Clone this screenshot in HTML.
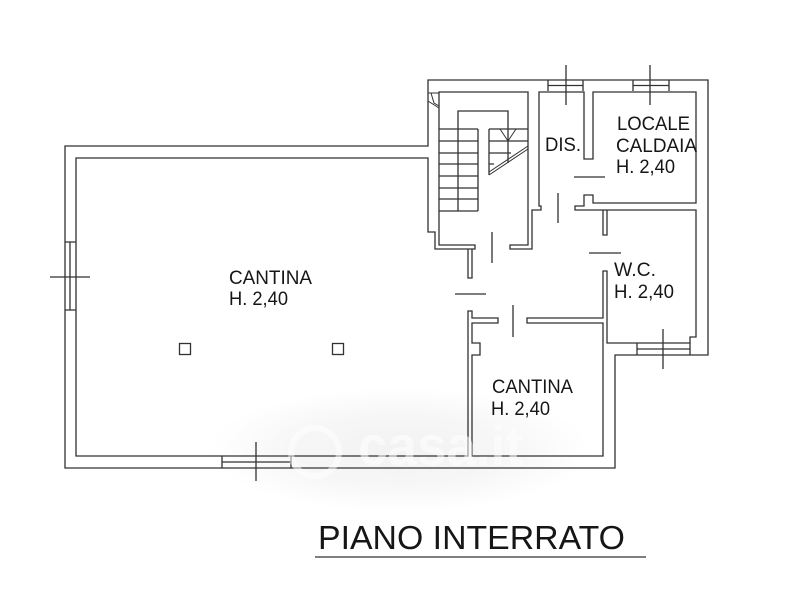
<!DOCTYPE html>
<html><head><meta charset="utf-8"><style>html,body{margin:0;padding:0;background:#fff}svg{display:block}text{font-family:"Liberation Sans",sans-serif;fill:#161616}</style></head>
<body><svg width="800" height="600" viewBox="0 0 800 600" xmlns="http://www.w3.org/2000/svg">
<defs><radialGradient id="g" cx="50%" cy="50%" r="50%"><stop offset="0" stop-color="#f2f2f2"/><stop offset=".6" stop-color="#f7f7f7"/><stop offset="1" stop-color="#fff"/></radialGradient>
<filter id="b" x="-5%" y="-5%" width="110%" height="110%"><feGaussianBlur stdDeviation="0.3"/></filter></defs>
<ellipse cx="400" cy="450" rx="190" ry="62" fill="url(#g)"/>
<g filter="url(#b)" fill="none" stroke="#333" stroke-width="1.3">
<path d="M65 146H428V80H708V355H615V468H65Z"/>
<path d="M428 158H76V456H468V311H472V318H498V323H472V343H480V355H472V456H603V323H527V318H603V271H607V343H690V337H696V210H575V206H584V195H593V203H696V92H593V159H584V92H539V206H541V210H532V249H510V245H528V92H439V245H475V249H435V232H428Z"/>
<path d="M468 249V278H472V249"/>
<path d="M603 210V235H607V210"/>
<path d="M548 80V91M583 80V91M548 85.500H583M633 80V91M669 80V91M633 85.500H669"/>
<path d="M637 343V355M690 343V355M637 349H690"/>
<path d="M65 242H76M65 310H76M70 242V310"/>
<path d="M222 456V468M291 456V468M222 462H291"/>
<path d="M566 65V105M650 65V105M663 329V369M50 277H90M256 442V481"/>
<path d="M574 177H605M558 193V223M492 232V263M589 253H621M455 294H486M513 305V337"/>
<path d="M458 211V111H508V163"/>
<path d="M439 129H478M439 141H478M439 153H478M439 164H478M439 176H478M439 188H478M439 199H478M439 211H478M478 129V211"/>
<path d="M489 129H528M489 141H528M489 153H511M489 164H494M489 129V175"/>
<path d="M489 172L528 146M489 175L528 149" stroke-width="1"/>
<path d="M500 129L508 141L516 129" stroke-width="1"/>
<path d="M428 93H439M431 93L434 103L439 106M428 101L439 108" stroke-width="1"/>
<rect x="179.500" y="343.500" width="11" height="11"/>
<rect x="332.500" y="343.500" width="11" height="11"/>
<path d="M315 557H646" stroke="#555" stroke-width="1.6"/>
</g>
<circle cx="315" cy="452" r="24" fill="none" stroke="#fff" stroke-width="6" opacity=".5"/>
<text x="358" y="465" font-size="56" font-weight="700" textLength="165" lengthAdjust="spacingAndGlyphs" style="fill:#fff;opacity:.55">casa.it</text>
<g font-size="19">
<text x="229" y="284" textLength="83" lengthAdjust="spacingAndGlyphs">CANTINA</text>
<text x="229" y="305" textLength="59" lengthAdjust="spacingAndGlyphs">H. 2,40</text>
<text x="492" y="393" textLength="81" lengthAdjust="spacingAndGlyphs">CANTINA</text>
<text x="491" y="415" textLength="59" lengthAdjust="spacingAndGlyphs">H. 2,40</text>
<text x="617" y="130" textLength="73" lengthAdjust="spacingAndGlyphs">LOCALE</text>
<text x="616" y="152" textLength="81" lengthAdjust="spacingAndGlyphs">CALDAIA</text>
<text x="616" y="173" textLength="59" lengthAdjust="spacingAndGlyphs">H. 2,40</text>
<text x="545" y="151" textLength="36" lengthAdjust="spacingAndGlyphs">DIS.</text>
<text x="614" y="276" textLength="42" lengthAdjust="spacingAndGlyphs">W.C.</text>
<text x="614" y="298" textLength="60" lengthAdjust="spacingAndGlyphs">H. 2,40</text>
</g>
<text x="318" y="549" font-size="33" textLength="307" lengthAdjust="spacingAndGlyphs">PIANO INTERRATO</text>
</svg></body></html>
